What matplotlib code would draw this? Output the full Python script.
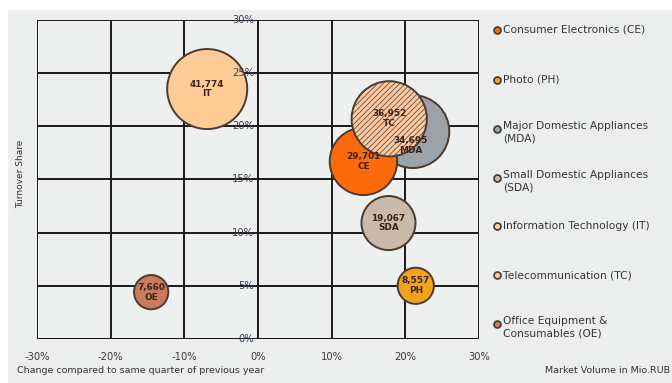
import matplotlib
matplotlib.use("Agg")
import matplotlib.pyplot as plt
import numpy as np

# Data
codes = ["CE", "PH", "MDA", "SDA", "IT", "TC", "OE"]
names = ["Consumer Electronics (CE)", "Photo (PH)", "Major Domestic Appliances\n(MDA)",
         "Small Domestic Appliances\n(SDA)", "Information Technology (IT)",
         "Telecommunication (TC)", "Office Equipment &\nConsumables (OE)"]
change = [14.3, 21.4, 21.0, 17.7, -6.9, 17.8, -14.5]      # % change vs previous year
share = [16.7, 5.0, 19.5, 10.9, 23.5, 20.7, 4.4]          # turnover share %
volume = [29701, 8557, 34695, 19067, 41774, 36952, 7660]  # Mio. RUB
colors = ["#FF6a0a", "#F2A21E", "#9CA3A8", "#C9B9A9", "#FFCB97", "#FFC8A0", "#C87C5E"]
hatches = ["", "", "", "", "", "//////", ""]
x_ticks = [-30, -20, -10, 0, 10, 20, 30]
y_ticks = [0, 5, 10, 15, 20, 25, 30]

draw_order = ["OE", "PH", "SDA", "IT", "MDA", "CE", "TC"]
label_offset = {"MDA": (-0.3, -1.3)}   # label nudges (styling)

plt.rcParams['hatch.color'] = "#F0B68C"
plt.rcParams['hatch.linewidth'] = 0.5

fig = plt.figure(figsize=(6.72, 3.83), dpi=100)
fig.patch.set_facecolor("#ECEEEE")
fig.add_artist(plt.Rectangle((0, 0.976), 1, 0.03, transform=fig.transFigure, color="white", zorder=0))
fig.add_artist(plt.Rectangle((0, 0), 0.011, 1, transform=fig.transFigure, color="white", zorder=0))

ax = fig.add_axes([0.055, 0.115, 0.658, 0.833])
ax.set_facecolor("#EEF0F0")
ax.set_xlim(-30, 30)
ax.set_ylim(0, 30)

for xv in x_ticks:
    ax.axvline(xv, color="#1a1a1a", lw=1.4, zorder=1)
for yv in y_ticks:
    ax.axhline(yv, color="#1a1a1a", lw=2.2 if yv == 0 else 1.4, zorder=1)
for s in ax.spines.values():
    s.set_visible(False)
ax.set_xticks([])
ax.set_yticks([])

k = 3318 / 41774
for c in draw_order:
    i = codes.index(c)
    ax.scatter(change[i], share[i], s=volume[i] * k, color=colors[i], edgecolor="#4a3b30",
               linewidth=1.4, hatch=hatches[i], zorder=3)
for c in draw_order:
    i = codes.index(c)
    dx, dy = label_offset.get(c, (0, 0))
    ax.text(change[i] + dx, share[i] + dy, f"{volume[i]:,}\n{c}", ha="center", va="center",
            fontsize=6.4, fontweight="bold", color="#3a2418", linespacing=1.1, zorder=4)

# tick labels
for xv in x_ticks:
    ax.text(xv, -1.2, f"{xv}%", ha="center", va="top", fontsize=7.2, color="#3a3a3a")
for yv in y_ticks:
    ax.text(-0.5, yv, f"{yv}%", ha="right", va="center", fontsize=7.2, color="#3a3a50", zorder=5)

fig.text(0.025, 0.027, "Change compared to same quarter of previous year", fontsize=6.8, color="#333333")
fig.text(0.811, 0.027, "Market Volume in Mio.RUB", fontsize=6.8, color="#333333")
fig.text(0.031, 0.545, "Turnover Share", fontsize=6.5, color="#333333", rotation=90, ha="center", va="center")

# legend
ys = [30, 80, 129, 178, 226, 275, 324]
for i, yp in enumerate(ys):
    yf = 1 - yp / 383
    fig.add_artist(matplotlib.lines.Line2D([497 / 672], [yf], marker="o", markersize=5,
                                           markerfacecolor=colors[i], markeredgecolor="#3a3a3a",
                                           markeredgewidth=1.2, transform=fig.transFigure))
    if "\n" in names[i]:
        fig.text(503 / 672, yf + 0.022, names[i], fontsize=7.7, color="#333333", va="top", linespacing=1.35)
    else:
        fig.text(503 / 672, yf, names[i], fontsize=7.7, color="#333333", va="center")

fig.savefig("out.png", dpi=100, facecolor=fig.get_facecolor())
